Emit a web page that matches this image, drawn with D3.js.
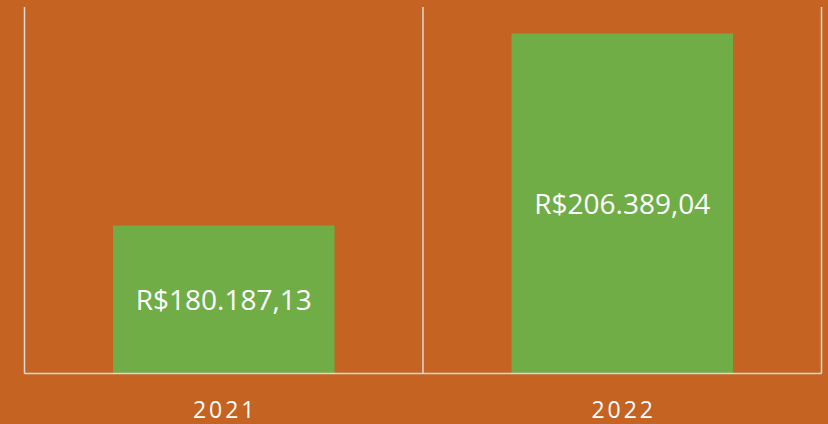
<!DOCTYPE html>
<html>
<head>
<meta charset="utf-8">
<script src="https://cdn.jsdelivr.net/npm/d3@7"></script>
<style>
  html, body { margin: 0; padding: 0; background: #C56322; }
  svg { display: block; }
</style>
</head>
<body>
<svg id="chart" width="828" height="424"></svg>
<script>
// Annual totals
const years = ["2021", "2022"];
const totals = [180187.13, 206389.04];
const valueLabels = ["R$180.187,13", "R$206.389,04"];
const yDomain = [160000, 210000];

const W = 828, H = 424;
const plot = { left: 24.5, right: 821.5, top: 7, bottom: 373.5 };
const font = "'Open Sans', 'Liberation Sans', Arial, sans-serif";

const svg = d3.select("#chart");
svg.append("rect").attr("width", W).attr("height", H).attr("fill", "#C56322");

const x = d3.scaleBand()
  .domain(years)
  .range([plot.left, plot.right])
  .paddingInner(0.444)
  .paddingOuter(0.222);

// band boundaries for the category separators
const outer = d3.scaleBand().domain(years).range([plot.left, plot.right]).padding(0);

const y = d3.scaleLinear().domain(yDomain).range([plot.bottom, plot.top]);

const grid = "#D9D9D9";
// vertical separators between categories
const seps = years.map(d => outer(d)).concat([plot.right]);
svg.append("g").selectAll("line").data(seps).join("line")
  .attr("x1", d => d).attr("x2", d => d)
  .attr("y1", plot.top).attr("y2", plot.bottom)
  .attr("stroke", grid).attr("stroke-width", 1.5);

// bars
svg.append("g").selectAll("rect").data(years).join("rect")
  .attr("x", d => x(d))
  .attr("width", x.bandwidth())
  .attr("y", (d, i) => y(totals[i]))
  .attr("height", (d, i) => plot.bottom - y(totals[i]))
  .attr("fill", "#70AD47");

// value labels centred in each bar
svg.append("g").selectAll("text").data(years).join("text")
  .attr("x", d => x(d) + x.bandwidth() / 2)
  .attr("y", (d, i) => (y(totals[i]) + plot.bottom) / 2 + 10.5)
  .attr("text-anchor", "middle")
  .attr("font-family", font)
  .attr("font-size", 28)
  .attr("fill", "#FFFFFF")
  .text((d, i) => valueLabels[i]);

// baseline
svg.append("line")
  .attr("x1", plot.left).attr("x2", plot.right)
  .attr("y1", plot.bottom).attr("y2", plot.bottom)
  .attr("stroke", grid).attr("stroke-width", 1.5);

// category axis labels
svg.append("g").selectAll("text").data(years).join("text")
  .attr("x", d => outer(d) + outer.bandwidth() / 2 + 1.4)
  .attr("y", 417.5)
  .attr("text-anchor", "middle")
  .attr("font-family", font)
  .attr("font-size", 23)
  .attr("letter-spacing", 2.9)
  .attr("fill", "#FFFFFF")
  .text(d => d);
</script>
</body>
</html>
